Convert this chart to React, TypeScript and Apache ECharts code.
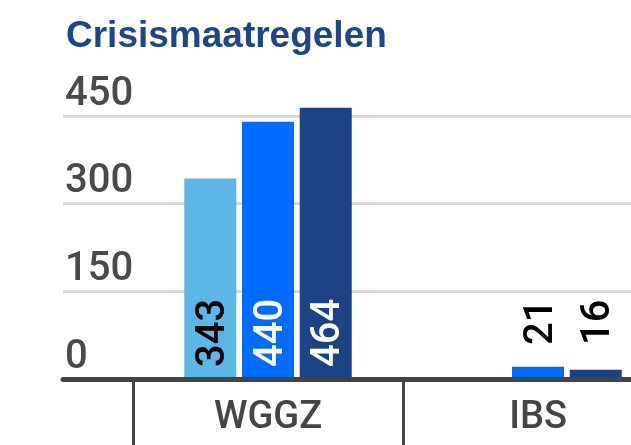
import React, { useEffect, useRef } from "react";
import * as echarts from "echarts";

const title = "Crisismaatregelen";
const categories = ["WGGZ", "IBS"];
const seriesA = [343, null];
const seriesB = [440, 21];
const seriesC = [464, 16];
const yMin = 0;
const yMax = 450;
const yInterval = 150;

const colors = ["#5db7e6", "#006cff", "#1c4385"];
const labelColors = ["#000000", "#ffffff", "#ffffff"];

const VIEW_W = 631;
const CHART_W = 690;

function buildData(values: (number | null)[], labelColor: string) {
  return values.map((v) => {
    if (v === null) return null;
    const small = v < 100;
    return {
      value: v,
      label: {
        distance: small ? 34 : 12,
        color: small ? "#000000" : labelColor,
      },
    };
  });
}

export default function App() {
  const ref = useRef<HTMLDivElement>(null);
  useEffect(() => {
    if (!ref.current) return;
    const chart = echarts.init(ref.current, null, { renderer: "svg" });
    const seriesVals = [seriesA, seriesB, seriesC];
    const gridTop = 116;
    const gridBottom = 66;
    chart.setOption({
      animation: false,
      title: {
        text: title,
        left: 66,
        top: 16,
        textStyle: {
          fontFamily: "Liberation Sans",
          fontWeight: "bold",
          fontSize: 37,
          color: "#1f4688",
          lineHeight: 37,
        },
        padding: 0,
      },
      grid: [
        { left: 133, width: 540, top: gridTop, bottom: gridBottom },
        { left: 63, right: CHART_W - VIEW_W, top: gridTop, bottom: gridBottom },
      ],
      xAxis: [
        {
          type: "category",
          gridIndex: 0,
          data: categories,
          axisLine: { show: false },
          axisTick: { show: true, length: 66, lineStyle: { color: "#444444", width: 3 } },
          axisLabel: {
            fontFamily: "Roboto",
            fontWeight: 500,
            fontSize: 38,
            color: "#454545",
            margin: 17,
          },
        },
        {
          type: "value",
          gridIndex: 1,
          min: 0,
          max: 1,
          z: 10,
          axisLine: { show: true, lineStyle: { color: "#444444", width: 5 } },
          axisTick: { show: false },
          axisLabel: { show: false },
          splitLine: { show: false },
        },
      ],
      yAxis: [
        {
          type: "value",
          gridIndex: 0,
          min: yMin,
          max: yMax,
          interval: yInterval,
          show: false,
          splitLine: { show: false },
        },
        {
          type: "value",
          gridIndex: 1,
          min: yMin,
          max: yMax,
          interval: yInterval,
          axisLine: { show: false },
          axisTick: { show: false },
          axisLabel: {
            inside: true,
            margin: 2,
            verticalAlign: "bottom",
            fontFamily: "Roboto",
            fontWeight: 500,
            fontSize: 40,
            lineHeight: 40,
            padding: [0, 0, 5, 0],
            color: "#4a4a4a",
          },
          splitLine: { show: true, lineStyle: { color: "#d9d9d9", width: 3 } },
        },
      ],
      series: seriesVals.map((vals, i) => ({
        type: "bar",
        xAxisIndex: 0,
        yAxisIndex: 0,
        data: buildData(vals, labelColors[i]),
        barWidth: 52,
        barGap: "11%",
        clip: false,
        itemStyle: { color: colors[i] },
        label: {
          show: true,
          position: "insideBottom",
          rotate: 90,
          align: "left",
          verticalAlign: "middle",
          fontFamily: "Roboto",
          fontWeight: 500,
          fontSize: 40,
          color: labelColors[i],
        },
      })),
    });
    return () => chart.dispose();
  }, []);
  return (
    <div
      style={{
        position: "fixed",
        left: 0,
        top: 0,
        width: VIEW_W,
        height: 445,
        overflow: "hidden",
      }}
    >
      <div ref={ref} style={{ width: CHART_W, height: 445 }} />
    </div>
  );
}
